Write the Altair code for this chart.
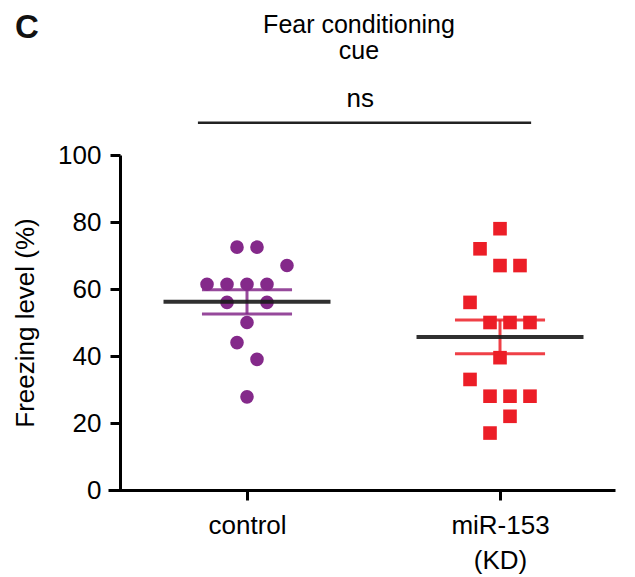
import altair as alt
import pandas as pd

# ---- data ----
group_names = ["control", "miR-153 (KD)"]
group_pos = [1, 2]
ctrl_vals = [72.5, 72.5, 67, 61.4, 61.4, 61.4, 61.4, 56, 56, 50, 44, 39, 27.8]
ctrl_slot = [-1, 1, 4, -4, -2, 0, 2, -2, 2, 0, -1, 1, 0]
kd_vals = [78, 72, 67, 67, 56, 50, 50, 50, 39.5, 33, 28, 28, 28, 22, 17]
kd_slot = [0, -2, 0, 2, -3, -1, 1, 3, 0, -3, -1, 1, 3, 1, -1]
colors = ["#84298A", "#EC1E27"]
shapes = ["circle", "square"]
y_ticks = [0, 20, 40, 60, 80, 100]
title_lines = ["Fear conditioning", "cue"]
panel_letter = ["C"]

rows = []
for v, s in zip(ctrl_vals, ctrl_slot):
    rows.append({"group": group_names[0], "pos": group_pos[0], "value": v, "slot": s})
for v, s in zip(kd_vals, kd_slot):
    rows.append({"group": group_names[1], "pos": group_pos[1], "value": v, "slot": s})
df = pd.DataFrame(rows)

FONT = "Liberation Sans"
FS = 26
xscale = alt.Scale(domain=[0.4506, 2.4545], nice=False, zero=False)
yscale = alt.Scale(domain=[0, 100], nice=False)
color_scale = alt.Scale(domain=group_names, range=colors)
shape_scale = alt.Scale(domain=group_names, range=shapes)

base = alt.Chart(df)

points = base.transform_calculate(
    xp="datum.pos + datum.slot * 0.0395"
).mark_point(filled=True, opacity=1, size=185, strokeWidth=0).encode(
    x=alt.X("xp:Q", scale=xscale,
            axis=alt.Axis(values=group_pos, title=None, grid=False,
                          labelExpr="datum.value == 1 ? 'control' : ['miR-153', '(KD)']",
                          labelFont=FONT, labelFontSize=FS, labelColor="black",
                          labelLineHeight=35, labelPadding=12,
                          tickSize=10, tickWidth=3, tickColor="black",
                          domainWidth=3, domainColor="black")),
    y=alt.Y("value:Q", scale=yscale,
            axis=alt.Axis(values=y_ticks, title="Freezing level (%)", grid=False,
                          offset=-12,
                          labelFont=FONT, labelFontSize=FS, labelColor="black",
                          labelPadding=9,
                          titleFont=FONT, titleFontSize=FS, titleFontWeight="normal",
                          titleColor="black", titlePadding=19,
                          tickSize=10, tickWidth=3, tickColor="black",
                          domainWidth=3, domainColor="black")),
    color=alt.Color("group:N", scale=color_scale, legend=None),
    shape=alt.Shape("group:N", scale=shape_scale, legend=None),
)

stats = base.transform_aggregate(
    m="mean(value)", se="stderr(value)", groupby=["group", "pos"]
).transform_calculate(
    x1="datum.pos - 0.33", x2="datum.pos + 0.33",
    s1="datum.pos - 0.178", s2="datum.pos + 0.178",
    up="datum.m + datum.se", lo="datum.m - datum.se",
)

sem_up = stats.mark_rule(strokeWidth=3, opacity=0.85).encode(
    x=alt.X("s1:Q", scale=xscale), x2="s2:Q", y=alt.Y("up:Q", scale=yscale),
    color=alt.Color("group:N", scale=color_scale, legend=None))
sem_lo = stats.mark_rule(strokeWidth=3, opacity=0.85).encode(
    x=alt.X("s1:Q", scale=xscale), x2="s2:Q", y=alt.Y("lo:Q", scale=yscale),
    color=alt.Color("group:N", scale=color_scale, legend=None))
sem_v = stats.mark_rule(strokeWidth=3, opacity=0.85).encode(
    x=alt.X("pos:Q", scale=xscale), y=alt.Y("lo:Q", scale=yscale), y2="up:Q",
    color=alt.Color("group:N", scale=color_scale, legend=None))
mean_line = stats.mark_rule(strokeWidth=4, color="#1a1a1a", opacity=0.9).encode(
    x=alt.X("x1:Q", scale=xscale), x2="x2:Q", y=alt.Y("m:Q", scale=yscale))

# significance annotation
sig_df = pd.DataFrame({"x1": [0.806], "x2": [2.123], "y": [109.6],
                       "t": ["ns"], "tx": [1.448], "ty": [114.3]})
sig_line = alt.Chart(sig_df).mark_rule(strokeWidth=2.5, color="#222222").encode(
    x=alt.X("x1:Q", scale=xscale), x2="x2:Q", y=alt.Y("y:Q", scale=yscale))
sig_lab = alt.Chart(sig_df).mark_text(font=FONT, fontSize=FS, color="black",
                                      baseline="alphabetic").encode(
    x=alt.X("tx:Q", scale=xscale), y=alt.Y("ty:Q", scale=yscale), text="t:N")

title1 = alt.Chart(pd.DataFrame({"t": [title_lines[0]]})).mark_text(
    font=FONT, fontSize=25, color="black", align="center", baseline="alphabetic"
).encode(x=alt.value(251), y=alt.value(-122), text="t:N")
title2 = alt.Chart(pd.DataFrame({"t": [title_lines[1]]})).mark_text(
    font=FONT, fontSize=25, color="black", align="center", baseline="alphabetic"
).encode(x=alt.value(251), y=alt.value(-96), text="t:N")

panel = alt.Chart(pd.DataFrame({"t": panel_letter})).mark_text(
    font=FONT, fontSize=33, fontWeight="bold", color="#111111", align="center",
    baseline="alphabetic"
).encode(x=alt.value(-81), y=alt.value(-117), text="t:N")

chart = alt.layer(
    points, sem_up, sem_lo, sem_v, mean_line, sig_line, sig_lab, title1, title2, panel
).properties(
    width=507, height=335,
    autosize=alt.AutoSizeParams(type="none"),
    padding={"left": 100, "top": 147, "right": 12, "bottom": 86},
).configure_view(stroke=None)

chart.save("out.html", embed_options={"renderer": "svg", "actions": False})
